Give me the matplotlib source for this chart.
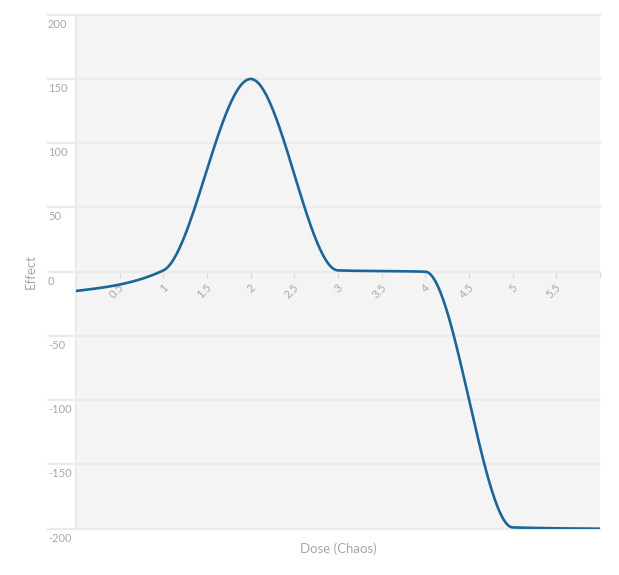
import numpy as np
import matplotlib
matplotlib.use("Agg")
import matplotlib.pyplot as plt
import matplotlib.transforms as mtransforms

# data
dose = [0, 1, 2, 3, 4, 5, 6]
effect = [-15, 1, 150, 1, 0, -199, -200]
x_ticks = [0, 0.5, 1, 1.5, 2, 2.5, 3, 3.5, 4, 4.5, 5, 5.5, 6]
x_tick_labels = ["", "0.5", "1", "1.5", "2", "2.5", "3", "3.5", "4", "4.5", "5", "5.5", ""]
y_ticks = [-200, -150, -100, -50, 0, 50, 100, 150, 200]

line_color = "#1b6696"
grid_color = "#ebebeb"
text_color = "#a8a8a8"

plt.rcParams["font.family"] = ["Lato", "DejaVu Sans"]


def monotone_x(xs, ys, n=60):
    # monotone cubic (same rule as d3.curveMonotoneX)
    xs = np.asarray(xs, float)
    ys = np.asarray(ys, float)
    h = np.diff(xs)
    s = np.diff(ys) / h
    t = np.zeros(len(xs))
    for i in range(1, len(xs) - 1):
        p = (s[i - 1] * h[i] + s[i] * h[i - 1]) / (h[i - 1] + h[i])
        t[i] = (np.sign(s[i - 1]) + np.sign(s[i])) * min(abs(s[i - 1]), abs(s[i]), 0.5 * abs(p))
    t[0] = (3 * s[0] - t[1]) / 2
    t[-1] = (3 * s[-1] - t[-2]) / 2
    out_x, out_y = [], []
    for i in range(len(xs) - 1):
        u = np.linspace(0, 1, n)
        h00 = 2 * u**3 - 3 * u**2 + 1
        h10 = u**3 - 2 * u**2 + u
        h01 = -2 * u**3 + 3 * u**2
        h11 = u**3 - u**2
        out_x.append(xs[i] + u * h[i])
        out_y.append(h00 * ys[i] + h10 * h[i] * t[i] + h01 * ys[i + 1] + h11 * h[i] * t[i + 1])
    return np.concatenate(out_x), np.concatenate(out_y)


fig = plt.figure(figsize=(6.19, 5.75), dpi=100)
ax = fig.add_axes([76 / 619, 1 - 528.7 / 575, 524 / 619, 514 / 575])
ax.set_facecolor("#f4f4f4")

cx, cy = monotone_x(dose, effect)
ax.plot(cx, cy, color=line_color, linewidth=1.9, solid_capstyle="round", zorder=3)

ax.set_xlim(0, 6)
ax.set_ylim(-200, 200)

# horizontal grid lines, running out past the left edge
ytr = ax.get_yaxis_transform()
for v in y_ticks:
    ax.plot([-28 / 524, 1], [v, v], transform=ytr, color=grid_color,
            linewidth=1.6, clip_on=False, zorder=1)
    off = mtransforms.offset_copy(ytr, fig=fig, x=0, y=-4, units="dots")
    ax.text(-28 / 524, v, str(v), transform=off, ha="left", va="top",
            fontsize=8, color=text_color)

for side in ["top", "right"]:
    ax.spines[side].set_visible(False)
ax.spines["left"].set_color(grid_color)
ax.spines["left"].set_linewidth(1.6)
ax.spines["bottom"].set_position(("data", 0))
ax.spines["bottom"].set_color(grid_color)
ax.spines["bottom"].set_linewidth(1.6)

ax.set_yticks([])
ax.set_xticks(x_ticks)
ax.set_xticklabels(x_tick_labels, rotation=45, ha="right", va="center",
                   rotation_mode="anchor", fontsize=8, color=text_color)
ax.tick_params(axis="x", length=4, width=1, color="#dcdcdc", pad=6)
shift = mtransforms.ScaledTranslation(3 / 100, 0, fig.dpi_scale_trans)
for lbl in ax.get_xticklabels():
    lbl.set_transform(lbl.get_transform() + shift)

ax.text(-45 / 524, 0.5, "Effect", transform=ax.transAxes, rotation=90,
        ha="center", va="center", fontsize=9.5, color=text_color)
ax.text(0.5, -20 / 514, "Dose (Chaos)", transform=ax.transAxes,
        ha="center", va="center", fontsize=9.5, color=text_color)

fig.savefig("out.png", dpi=100)
